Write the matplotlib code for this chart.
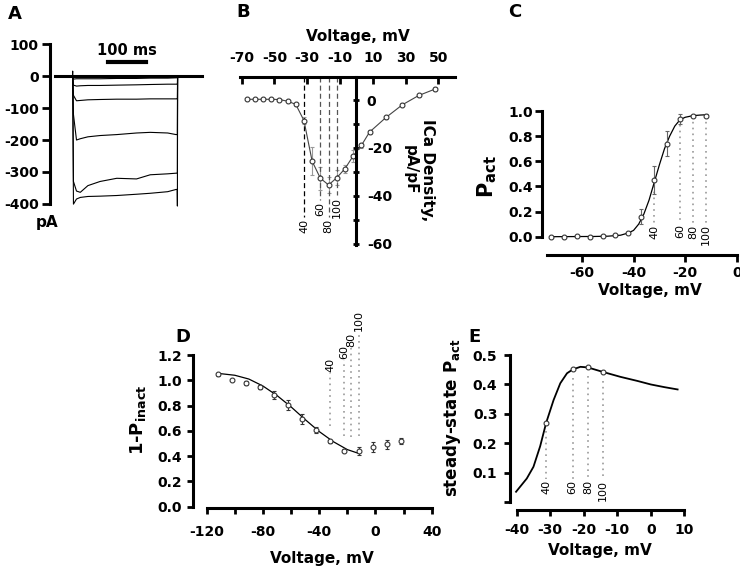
import matplotlib
matplotlib.use("Agg")
import matplotlib.pyplot as plt

W, H = 740, 569
plt.rcParams['font.family'] = 'DejaVu Sans'
plt.rcParams['font.weight'] = 'bold'
plt.rcParams['axes.unicode_minus'] = False

# ---- A: current traces (ms, pA)
trace_t = [-46, -0.5, 0, 2, 10, 20, 40, 72, 116, 168, 204, 250, 272, 275, 275.5, 276, 339]
traces = [
    [0, 0, 0, 0, 0, 0, 0, 0, 0, 0, 0, 0, 0, 0, 0, 0, 0],
    [0, 0, 0, -9, -8, -8, -8, -8, -7, -7, -6, -6, -5, -5, -5, 0, 0],
    [0, 0, 0, -28, -31, -30, -29, -29, -28, -27, -26, -25, -25, -25, -25, 0, 0],
    [0, 0, 0, -60, -77, -76, -74, -73, -72, -72, -71, -71, -71, -71, -71, 0, 0],
    [0, 0, 0, -120, -200, -196, -190, -186, -183, -178, -176, -178, -183, -183, -183, 0, 0],
    [0, 0, 0, -330, -360, -364, -343, -330, -320, -322, -309, -306, -304, -304, -304, 0, 0],
    [0, 0, 16, -401, -385, -380, -377, -376, -374, -370, -367, -362, -355, -355, -407, 0, 0],
]

# ---- B: I-V relation
V_B = [-67, -62, -57, -52, -47, -42, -37, -32, -27, -22, -17, -12, -7, -2, 3, 8, 18, 28, 38, 48]
I_B = [0.3, 0.3, 0.3, 0.3, 0.2, -0.5, -1.8, -8.6, -25.6, -32.7, -35.5, -32.5, -28.7, -23.4, -19.0, -13.4, -7.3, -2.0, 1.9, 4.6]
err_B = [0.4, 0.4, 0.4, 0.4, 0.4, 0.5, 0.6, 1.5, 5.9, 4.9, 3.5, 3.1, 1.7, 2.4, 1.0, 1.0, 0.6, 0.6, 0.6, 1.0]

# ---- C: activation
V_C = [-72, -67, -62, -57, -52, -47, -42, -37, -32, -27, -22, -17, -12]
P_C = [0, 0, 0.005, 0, 0.005, 0.013, 0.03, 0.16, 0.45, 0.74, 0.94, 0.96, 0.963]
err_C = [0, 0, 0, 0, 0, 0.005, 0.006, 0.06, 0.11, 0.1, 0.04, 0.01, 0.012]
fitC_V = [-72, -55, -50, -45, -42, -40, -38, -36, -34, -32, -30, -28, -26, -24, -22, -20, -17, -14, -12]
fitC_P = [0, 0.002, 0.004, 0.012, 0.03, 0.05, 0.1, 0.18, 0.29, 0.43, 0.57, 0.7, 0.8, 0.88, 0.93, 0.95, 0.963, 0.968, 0.97]

# ---- D: inactivation
V_D = [-112, -102, -92, -82, -72, -62, -52, -42, -32, -22, -12, -2, 8, 18]
Y_D = [1.047, 1.003, 0.98, 0.945, 0.884, 0.805, 0.694, 0.607, 0.517, 0.443, 0.443, 0.475, 0.494, 0.52]
err_D = [0.01, 0.01, 0.015, 0.015, 0.03, 0.04, 0.04, 0.02, 0.01, 0.01, 0.033, 0.04, 0.035, 0.025]
fitD_V = [-112, -100, -90, -80, -70, -60, -50, -40, -30, -20, -12]
fitD_Y = [1.055, 1.04, 1.01, 0.955, 0.88, 0.79, 0.69, 0.595, 0.515, 0.452, 0.422]

# ---- E: window current
fitE_V = [-40.2, -37, -35, -33, -31.2, -29, -27, -25, -23.3, -21, -18.8, -14.4, -9.1, -4, 0, 4, 8]
fitE_Y = [0.035, 0.08, 0.12, 0.19, 0.27, 0.347, 0.404, 0.438, 0.451, 0.46, 0.458, 0.443, 0.426, 0.412, 0.4, 0.391, 0.383]
V_E = [-31.2, -23.3, -18.8, -14.4]
Y_E = [0.27, 0.451, 0.458, 0.441]

pulse_labels = ['40', '60', '80', '100']
pulse_V = [-32, -22, -17, -12]

fig = plt.figure(figsize=(W / 100, H / 100), dpi=100)


def ax_at(l, t, r, b):
    return fig.add_axes([l / W, 1 - b / H, (r - l) / W, (b - t) / H])


def ftext(x, y, s, **kw):
    fig.text(x / W, 1 - y / H, s, ha='center', va='center', **kw)


def style(ax, show):
    for k, sp in ax.spines.items():
        sp.set_visible(k in show)
        sp.set_linewidth(2.2)
    ax.patch.set_alpha(0)


mk = dict(marker='o', ms=3.5, mfc='white', mec='#333333', mew=0.8)

# ================= A
axA = ax_at(50, 40, 245, 210)
style(axA, ['left'])
for i, tr in enumerate(traces):
    axA.plot(trace_t, tr, color='black', lw=2.2 if i == 0 else 0.8)
axA.set_xlim(-59.7, 453.4)
axA.set_ylim(-419.4, 113.5)
axA.spines['left'].set_bounds(-400, 100)
axA.set_xticks([])
axA.set_yticks([-400, -300, -200, -100, 0, 100])
axA.tick_params(axis='y', direction='out', length=6, width=2, labelsize=10, pad=2)
axA.plot([92, 192], [44.5, 44.5], color='black', lw=3)
axA.text(142, 57, '100 ms', ha='center', va='bottom', fontsize=10.5, fontweight='bold')
ftext(47.5, 223, 'pA', fontsize=11, fontweight='bold')
ftext(15, 14, 'A', fontsize=13, fontweight='bold')

# ================= B
axB = ax_at(240, 77, 455, 245)
style(axB, ['top', 'right'])
axB.spines['right'].set_position(('data', 0))
axB.set_xlim(-71.0, 60.1)
axB.set_ylim(-60.6, 9.62)
axB.xaxis.tick_top()
axB.set_xticks([-70, -50, -30, -10, 10, 30, 50])
axB.tick_params(axis='x', direction='in', length=5, width=2, labelsize=10, pad=9)
axB.yaxis.tick_right()
axB.set_yticks([-60, -50, -40, -30, -20, -10, 0])
axB.set_yticklabels(['-60', '', '-40', '', '-20', '', '0'])
axB.tick_params(axis='y', direction='inout', length=5, width=2, labelsize=10, pad=5)
axB.errorbar(V_B, I_B, yerr=err_B, color='#444444', lw=0.8, ecolor='#999999',
             elinewidth=0.8, capsize=1.5, **mk)
ends_B = [-48.9, -41.8, -48.9, -39.7]
tops_B = [-49.7, -42.6, -49.7, -40.5]
for v, e, tp, s in zip(pulse_V, ends_B, tops_B, pulse_labels):
    axB.plot([v, v], [9.62, e], ls=(0, (4, 2.5)), lw=0.9,
             color='black' if s == '40' else '#555555')
    axB.text(v, tp, s, rotation=90, ha='center', va='top', fontsize=8, fontweight='normal')
ftext(358, 36, 'Voltage, mV', fontsize=11, fontweight='bold')
ftext(419, 170, 'ICa Density,\npA/pF', fontsize=11, fontweight='bold', rotation=270,
      multialignment='center')
ftext(243, 12, 'B', fontsize=13, fontweight='bold')

# ================= C
axC = ax_at(541.7, 109, 738, 255)
style(axC, ['left', 'bottom'])
axC.set_xlim(-75.6, 0.5)
axC.set_ylim(-0.1456, 1.016)
axC.spines['left'].set_bounds(0, 1.0)
axC.spines['bottom'].set_bounds(-73.6, 0)
axC.set_yticks([0, 0.2, 0.4, 0.6, 0.8, 1.0])
axC.set_yticklabels(['0.0', '0.2', '0.4', '0.6', '0.8', '1.0'])
axC.set_xticks([-60, -40, -20, 0])
axC.tick_params(direction='out', length=5, width=2, labelsize=10)
axC.tick_params(axis='y', pad=1)
axC.tick_params(axis='x', pad=3)
for v, p, s in zip(pulse_V, [0.45, 0.94, 0.96, 0.963], pulse_labels):
    axC.plot([v, v], [p, 0.105], ls=(0, (1, 2.5)), lw=1.2, color='#999999')
    axC.text(v, 0.098, s, rotation=90, ha='center', va='top', fontsize=8, fontweight='normal')
axC.plot(fitC_V, fitC_P, color='black', lw=0.9)
axC.errorbar(V_C, P_C, yerr=err_C, ls='none', ecolor='#666666', elinewidth=0.8,
             capsize=1.5, **mk)
ftext(650, 290, 'Voltage, mV', fontsize=11, fontweight='bold')
ftext(487, 177, r'$\mathbf{P_{act}}$', fontsize=15, rotation=90)
ftext(515, 12, 'C', fontsize=13, fontweight='bold')

# ================= D
axD = ax_at(193.3, 352, 436, 508.3)
style(axD, ['left', 'bottom'])
axD.set_xlim(-129.5, 43.1)
axD.set_ylim(-0.0127, 1.224)
axD.spines['left'].set_bounds(0, 1.2)
axD.spines['bottom'].set_bounds(-120, 40)
axD.set_yticks([0, 0.2, 0.4, 0.6, 0.8, 1.0, 1.2])
axD.set_yticklabels(['0.0', '0.2', '0.4', '0.6', '0.8', '1.0', '1.2'])
axD.set_xticks(range(-120, 41, 20))
axD.set_xticklabels(['-120', '', '-80', '', '-40', '', '0', '', '40'])
axD.tick_params(direction='out', length=4, width=2, labelsize=10)
axD.tick_params(axis='y', pad=4)
axD.tick_params(axis='x', pad=8)
bot_D = [0.638, 0.56, 0.549, 0.56]
top_D = [1.057, 1.16, 1.254, 1.38]
for v, b, tp, s in zip(pulse_V, bot_D, top_D, pulse_labels):
    axD.plot([v, v], [b, tp], ls=(0, (1, 2.5)), lw=1.2, color='#999999', clip_on=False)
    axD.text(v, tp + 0.01, s, rotation=90, ha='center', va='bottom', fontsize=8,
             fontweight='normal', clip_on=False)
axD.plot(fitD_V, fitD_Y, color='black', lw=0.9)
axD.errorbar(V_D, Y_D, yerr=err_D, ls='none', ecolor='#333333', elinewidth=0.8,
             capsize=1.5, **mk)
ftext(321.7, 558, 'Voltage, mV', fontsize=11, fontweight='bold')
ftext(137.5, 420, r'$\mathbf{1\text{-}P_{inact}}$', fontsize=13, rotation=90)
ftext(183, 337, 'D', fontsize=13, fontweight='bold')

# ================= E
axE = ax_at(510, 353, 688, 510)
style(axE, ['left', 'bottom'])
axE.set_xlim(-42, 11.1)
axE.set_ylim(-0.027, 0.507)
axE.spines['left'].set_bounds(0, 0.5)
axE.spines['bottom'].set_bounds(-40, 10)
axE.set_yticks([0, 0.1, 0.2, 0.3, 0.4, 0.5])
axE.set_yticklabels(['', '0.1', '0.2', '0.3', '0.4', '0.5'])
axE.set_xticks([-40, -30, -20, -10, 0, 10])
axE.tick_params(direction='out', length=4, width=2, labelsize=10)
axE.tick_params(axis='y', pad=5)
axE.tick_params(axis='x', pad=5)
for v, y, s in zip(V_E, Y_E, pulse_labels):
    axE.plot([v, v], [y - 0.03, 0.08], ls=(0, (1, 2.5)), lw=1.2, color='#999999')
    axE.text(v, 0.075, s, rotation=90, ha='center', va='top', fontsize=8, fontweight='normal')
axE.plot(fitE_V, fitE_Y, color='black', lw=1.3)
axE.plot(V_E, Y_E, ls='none', **mk)
ftext(600, 550, 'Voltage, mV', fontsize=11, fontweight='bold')
ftext(452, 418, r'$\mathbf{steady\text{-}state\ P_{act}}$', fontsize=12, rotation=90)
ftext(475, 337, 'E', fontsize=13, fontweight='bold')

fig.savefig('out.png', dpi=100)
